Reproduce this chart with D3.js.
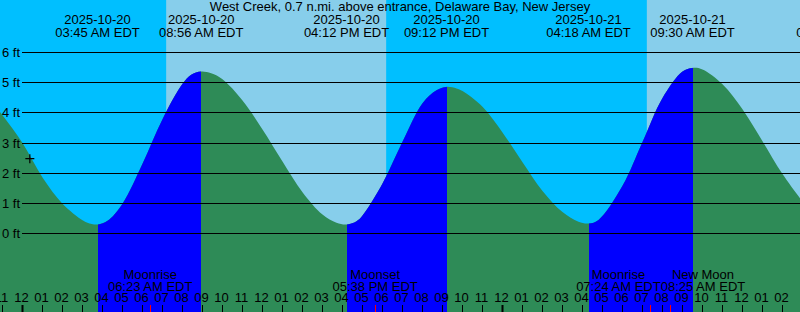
<!DOCTYPE html>
<html>
<head>
<meta charset="utf-8">
<script src="https://cdn.jsdelivr.net/npm/d3@7"></script>
<style>
  body { margin: 0; padding: 0; background: #fff; }
  svg { display: block; font-family: "Liberation Sans", Arial, sans-serif; }
</style>
</head>
<body>
<div id="chart"></div>
<script>
// ---- data ----
const stationName = "West Creek, 0.7 n.mi. above entrance, Delaware Bay, New Jersey";

// tide height samples (local time EDT, feet)
const sampleTimes = [
  "2025-10-19 22:00", "2025-10-19 23:00", "2025-10-20 00:00", "2025-10-20 01:00",
  "2025-10-20 02:00", "2025-10-20 03:00", "2025-10-20 03:15", "2025-10-20 03:45",
  "2025-10-20 04:15", "2025-10-20 05:00", "2025-10-20 06:00", "2025-10-20 07:00",
  "2025-10-20 08:00", "2025-10-20 08:26", "2025-10-20 08:56", "2025-10-20 09:26",
  "2025-10-20 10:00", "2025-10-20 11:00", "2025-10-20 12:00", "2025-10-20 13:00",
  "2025-10-20 14:00", "2025-10-20 15:00", "2025-10-20 15:42", "2025-10-20 16:12",
  "2025-10-20 16:42", "2025-10-20 17:00", "2025-10-20 18:00", "2025-10-20 19:00",
  "2025-10-20 20:00", "2025-10-20 20:42", "2025-10-20 21:12", "2025-10-20 21:42",
  "2025-10-20 22:00", "2025-10-20 23:00", "2025-10-21 00:00", "2025-10-21 01:00",
  "2025-10-21 02:00", "2025-10-21 03:00", "2025-10-21 03:48", "2025-10-21 04:18",
  "2025-10-21 04:48", "2025-10-21 06:00", "2025-10-21 07:00", "2025-10-21 08:00",
  "2025-10-21 09:00", "2025-10-21 09:30", "2025-10-21 10:00", "2025-10-21 11:00",
  "2025-10-21 12:00", "2025-10-21 13:00", "2025-10-21 14:00", "2025-10-21 15:00"
];
const sampleFeet = [
  4.72, 3.92, 3.00, 1.86,
  0.99, 0.44, 0.36, 0.30,
  0.42, 0.99, 2.31, 3.79,
  4.96, 5.26, 5.37, 5.31,
  5.11, 4.41, 3.45, 2.39,
  1.37, 0.63, 0.36, 0.30,
  0.41, 0.60, 1.66, 3.04,
  4.32, 4.75, 4.86, 4.81,
  4.72, 4.20, 3.35, 2.36,
  1.41, 0.71, 0.39, 0.33,
  0.45, 1.58, 3.03, 4.49,
  5.37, 5.49, 5.44, 4.95,
  4.12, 3.06, 1.97, 1.06
];

// high / low tide events shown along the top
const tideEventTimes = ["2025-10-20 03:45", "2025-10-20 08:56", "2025-10-20 16:12",
                        "2025-10-20 21:12", "2025-10-21 04:18", "2025-10-21 09:30",
                        "2025-10-21 16:49"];
const tideEventTypes = ["low", "high", "low", "high", "low", "high", "low"];

// sun (day / night background)
const sunriseTimes = ["2025-10-20 07:11", "2025-10-21 07:13"];
const sunsetTimes  = ["2025-10-20 18:11", "2025-10-21 18:09"];

// moon events along the bottom
const moonTimes  = ["2025-10-20 06:23", "2025-10-20 17:38", "2025-10-21 07:24", "2025-10-21 08:25"];
const moonLabels = ["Moonrise", "Moonset", "Moonrise", "New Moon"];

const feetTicks = [0, 1, 2, 3, 4, 5, 6];

// current time marker
const markTime = "2025-10-20 00:22";
const markFeet = 2.48;

// ---- chart ----
const width = 800, height = 312;
const parse = d3.timeParse("%Y-%m-%d %H:%M");

const samples = sampleTimes.map((t, i) => ({t: parse(t), h: sampleFeet[i]}));
const tideEvents = tideEventTimes.map((t, i) => ({t: parse(t), type: tideEventTypes[i]}));

const svg = d3.select("#chart").append("svg")
  .attr("width", width)
  .attr("height", height);

const x = d3.scaleTime()
  .domain([new Date(2025, 9, 19, 22, 52, 30), new Date(2025, 9, 21, 14, 52, 30)])
  .range([0, width]);

const y = d3.scaleLinear()
  .domain([0, 6])
  .range([233.5, 52.5]);

// night background, then day bands
svg.append("rect")
  .attr("width", width).attr("height", height)
  .attr("fill", "#00bfff");

svg.selectAll(".day")
  .data(sunriseTimes.map((t, i) => [parse(t), parse(sunsetTimes[i])]))
  .join("rect")
  .attr("class", "day")
  .attr("x", d => x(d[0]))
  .attr("width", d => x(d[1]) - x(d[0]))
  .attr("y", 0)
  .attr("height", height)
  .attr("fill", "#87ceeb");

// water
const area = d3.area()
  .x(d => x(d.t))
  .y0(height)
  .y1(d => y(d.h))
  .curve(d3.curveCatmullRom.alpha(0.5));

svg.append("path")
  .datum(samples)
  .attr("d", area)
  .attr("fill", "#2e8b57");

// rising tide (low -> high) in blue
const flood = [];
for (let i = 0; i < tideEvents.length - 1; i++) {
  if (tideEvents[i].type == "low" && tideEvents[i + 1].type == "high")
    flood.push([tideEvents[i].t, tideEvents[i + 1].t]);
}

svg.append("clipPath")
  .attr("id", "flood")
  .selectAll("rect")
  .data(flood)
  .join("rect")
  .attr("x", d => Math.round(x(d[0])))
  .attr("width", d => Math.round(x(d[1])) - Math.round(x(d[0])))
  .attr("y", 0)
  .attr("height", height);

svg.append("path")
  .datum(samples)
  .attr("d", area)
  .attr("clip-path", "url(#flood)")
  .attr("fill", "#0000ff");

// feet grid
svg.selectAll(".grid")
  .data(feetTicks)
  .join("line")
  .attr("class", "grid")
  .attr("x1", 22)
  .attr("x2", width)
  .attr("y1", d => Math.floor(y(d)) + 0.5)
  .attr("y2", d => Math.floor(y(d)) + 0.5)
  .attr("stroke", "#000")
  .attr("stroke-width", 1);

svg.selectAll(".ylab")
  .data(feetTicks)
  .join("text")
  .attr("class", "ylab")
  .attr("x", 2)
  .attr("y", d => y(d) + 4.5)
  .attr("font-size", 13)
  .text(d => d + " ft");

// title
svg.append("text")
  .attr("x", width / 2)
  .attr("y", 11)
  .attr("text-anchor", "middle")
  .attr("font-size", 13)
  .text(stationName);

// tide event labels
const fmtDate = d3.timeFormat("%Y-%m-%d");
const fmtTime = d3.timeFormat("%I:%M %p EDT");

const tideLabels = svg.selectAll(".tide")
  .data(tideEvents)
  .join("g")
  .attr("class", "tide")
  .attr("transform", d => "translate(" + x(d.t) + ",0)");
tideLabels.append("text")
  .attr("y", 24)
  .attr("text-anchor", "middle")
  .attr("font-size", 13)
  .text(d => fmtDate(d.t));
tideLabels.append("text")
  .attr("y", 36.5)
  .attr("text-anchor", "middle")
  .attr("font-size", 13)
  .text(d => fmtTime(d.t));

// hour axis
const hours = d3.timeHour.range(x.domain()[0], x.domain()[1]);
hours.unshift(d3.timeHour.floor(x.domain()[0]));

svg.selectAll(".hlab")
  .data(hours)
  .join("text")
  .attr("class", "hlab")
  .attr("x", d => x(d) - 1)
  .attr("y", 302)
  .attr("text-anchor", "middle")
  .attr("font-size", 13)
  .text(d3.timeFormat("%I"));

svg.selectAll(".htick")
  .data(hours)
  .join("line")
  .attr("class", "htick")
  .attr("x1", d => x(d))
  .attr("x2", d => x(d))
  .attr("y1", 305)
  .attr("y2", height)
  .attr("stroke", "#000")
  .attr("stroke-width", d => d.getHours() == 0 ? 2 : 1);

// moon events
const moon = moonTimes.map((t, i) => ({t: parse(t), label: moonLabels[i]}));

svg.selectAll(".mtick")
  .data(moon)
  .join("line")
  .attr("class", "mtick")
  .attr("x1", d => Math.floor(x(d.t)) + 0.5)
  .attr("x2", d => Math.floor(x(d.t)) + 0.5)
  .attr("y1", 305)
  .attr("y2", height)
  .attr("stroke", "#ff0000");

const moonLab = svg.selectAll(".moon")
  .data(moon)
  .join("g")
  .attr("class", "moon");
moonLab.append("text")
  .attr("y", 279)
  .attr("text-anchor", "middle")
  .attr("font-size", 13)
  .text(d => d.label);
moonLab.append("text")
  .attr("y", 290.5)
  .attr("text-anchor", "middle")
  .attr("font-size", 13)
  .text(d => fmtTime(d.t));

// push overlapping moon labels apart
moonLab.each(function(d) {
  let w = 0;
  d3.select(this).selectAll("text").each(function() {
    w = Math.max(w, this.getComputedTextLength());
  });
  d.w = w;
  d.cx = x(d.t);
});
for (let i = 0; i < moon.length - 1; i++) {
  const a = moon[i], b = moon[i + 1];
  const overlap = (a.cx + a.w / 2) - (b.cx - b.w / 2);
  if (overlap > 0) {
    a.cx -= overlap / 2;
    b.cx += overlap / 2;
  }
}
moonLab.attr("transform", d => "translate(" + d.cx + ",0)");

// current time mark
const mx = x(parse(markTime)), my = y(markFeet);
svg.append("path")
  .attr("d", `M${mx - 4.5},${my}H${mx + 4.5}M${mx},${my - 4.5}V${my + 4.5}`)
  .attr("stroke", "#000")
  .attr("stroke-width", 1.2);
</script>
</body>
</html>
